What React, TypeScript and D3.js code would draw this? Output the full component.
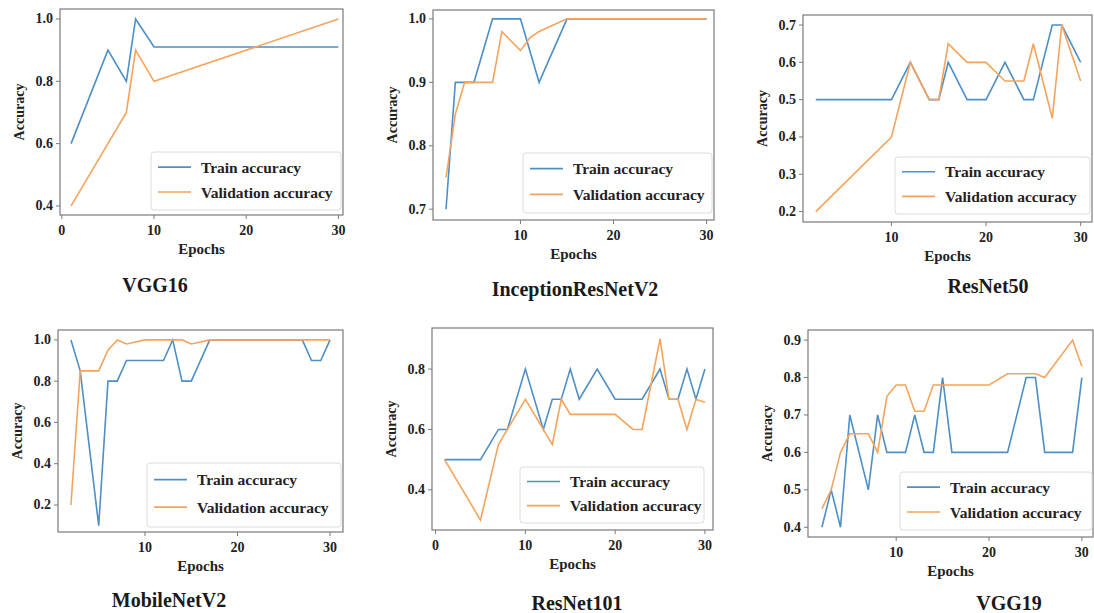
import * as d3 from "d3";

type Pt = [number, number];

// [epoch, accuracy] vertices
const vgg16Train: Pt[] = [[1, 0.6], [5, 0.9], [7, 0.8], [8, 1.0], [10, 0.91], [30, 0.91]];
const vgg16Val: Pt[] = [[1, 0.4], [7, 0.7], [8, 0.9], [10, 0.8], [30, 1.0]];

const inceptionTrain: Pt[] = [[2, 0.7], [3, 0.9], [5, 0.9], [7, 1.0], [10, 1.0], [12, 0.9], [15, 1.0], [30, 1.0]];
const inceptionVal: Pt[] = [[2, 0.75], [3, 0.85], [4, 0.9], [7, 0.9], [8, 0.98], [10, 0.95], [11, 0.97], [12, 0.98], [15, 1.0], [30, 1.0]];

const resnet50Train: Pt[] = [[2, 0.5], [10, 0.5], [12, 0.6], [14, 0.5], [15, 0.5], [16, 0.6], [18, 0.5], [20, 0.5], [22, 0.6], [24, 0.5], [25, 0.5], [27, 0.7], [28, 0.7], [30, 0.6]];
const resnet50Val: Pt[] = [[2, 0.2], [10, 0.4], [12, 0.6], [14, 0.5], [15, 0.5], [16, 0.65], [18, 0.6], [20, 0.6], [22, 0.55], [24, 0.55], [25, 0.65], [27, 0.45], [28, 0.7], [30, 0.55]];

const mobilenetTrain: Pt[] = [[2, 1.0], [3, 0.85], [5, 0.1], [6, 0.8], [7, 0.8], [8, 0.9], [12, 0.9], [13, 1.0], [14, 0.8], [15, 0.8], [17, 1.0], [27, 1.0], [28, 0.9], [29, 0.9], [30, 1.0]];
const mobilenetVal: Pt[] = [[2, 0.2], [3, 0.85], [5, 0.85], [6, 0.95], [7, 1.0], [8, 0.98], [9, 0.99], [10, 1.0], [14, 1.0], [15, 0.98], [16, 0.99], [17, 1.0], [30, 1.0]];

const resnet101Train: Pt[] = [[1, 0.5], [5, 0.5], [7, 0.6], [8, 0.6], [10, 0.8], [12, 0.6], [13, 0.7], [14, 0.7], [15, 0.8], [16, 0.7], [18, 0.8], [20, 0.7], [23, 0.7], [25, 0.8], [26, 0.7], [27, 0.7], [28, 0.8], [29, 0.7], [30, 0.8]];
const resnet101Val: Pt[] = [[1, 0.5], [5, 0.3], [7, 0.55], [8, 0.6], [10, 0.7], [12, 0.6], [13, 0.55], [14, 0.7], [15, 0.65], [20, 0.65], [22, 0.6], [23, 0.6], [25, 0.9], [26, 0.7], [27, 0.7], [28, 0.6], [29, 0.7], [30, 0.69]];

const vgg19Train: Pt[] = [[2, 0.4], [3, 0.5], [4, 0.4], [5, 0.7], [7, 0.5], [8, 0.7], [9, 0.6], [11, 0.6], [12, 0.7], [13, 0.6], [14, 0.6], [15, 0.8], [16, 0.6], [22, 0.6], [24, 0.8], [25, 0.8], [26, 0.6], [29, 0.6], [30, 0.8]];
const vgg19Val: Pt[] = [[2, 0.45], [3, 0.5], [4, 0.6], [5, 0.65], [7, 0.65], [8, 0.6], [9, 0.75], [10, 0.78], [11, 0.78], [12, 0.71], [13, 0.71], [14, 0.78], [20, 0.78], [22, 0.81], [25, 0.81], [26, 0.8], [29, 0.9], [30, 0.83]];

const xTickValues = [0, 10, 20, 30];
const titles = ["VGG16", "InceptionResNetV2", "ResNet50", "MobileNetV2", "ResNet101", "VGG19"];
const legendLabels = ["Train accuracy", "Validation accuracy"];

const trainColor = "#4d8fc6";
const valColor = "#f6a35c";
const font = "'Liberation Serif', 'Times New Roman', serif";

// layout of each small chart (pixel boxes + axis ranges)
const panels = [
  { train: vgg16Train, val: vgg16Val, xDomain: [-0.2, 30.5], yDomain: [0.371, 1.032], yTicks: [0.4, 0.6, 0.8, 1.0],
    box: { x0: 60, x1: 343, y0: 9, y1: 215 }, legend: { x: 151, y: 152, w: 190, h: 58 }, title: [155, 285] },
  { train: inceptionTrain, val: inceptionVal, xDomain: [0.6, 30.8], yDomain: [0.683, 1.014], yTicks: [0.7, 0.8, 0.9, 1.0],
    box: { x0: 433, x1: 714, y0: 10, y1: 220 }, legend: { x: 523, y: 153, w: 189, h: 60 }, title: [575, 289] },
  { train: resnet50Train, val: resnet50Val, xDomain: [0.65, 31.2], yDomain: [0.172, 0.727], yTicks: [0.2, 0.3, 0.4, 0.5, 0.6, 0.7],
    box: { x0: 803, x1: 1092, y0: 15, y1: 222 }, legend: { x: 895, y: 157, w: 195, h: 57 }, title: [988, 286] },
  { train: mobilenetTrain, val: mobilenetVal, xDomain: [0.6, 31.4], yDomain: [0.069, 1.048], yTicks: [0.2, 0.4, 0.6, 0.8, 1.0],
    box: { x0: 58, x1: 343, y0: 330, y1: 532 }, legend: { x: 147, y: 463, w: 194, h: 64 }, title: [169, 600] },
  { train: resnet101Train, val: resnet101Val, xDomain: [-0.4, 30.9], yDomain: [0.267, 0.936], yTicks: [0.4, 0.6, 0.8],
    box: { x0: 432, x1: 713, y0: 328, y1: 530 }, legend: { x: 520, y: 467, w: 184, h: 56 }, title: [577, 603] },
  { train: vgg19Train, val: vgg19Val, xDomain: [0.5, 31.2], yDomain: [0.374, 0.927], yTicks: [0.4, 0.5, 0.6, 0.7, 0.8, 0.9],
    box: { x0: 808, x1: 1093, y0: 330, y1: 537 }, legend: { x: 900, y: 472, w: 192, h: 58 }, title: [1009, 603] },
];

function Panel({ p, title }: { p: (typeof panels)[number]; title: string }) {
  const { box, legend } = p;
  const x = d3.scaleLinear().domain(p.xDomain).range([box.x0, box.x1]);
  const y = d3.scaleLinear().domain(p.yDomain).range([box.y1, box.y0]);
  const line = d3.line<Pt>().x(d => x(d[0])).y(d => y(d[1]));
  const xTicks = xTickValues.filter(t => t >= p.xDomain[0] && t <= p.xDomain[1]);
  const fmt = d3.format(".1f");
  const row1 = legend.y + legend.h * 0.26;
  const row2 = legend.y + legend.h * 0.69;
  const cx = (box.x0 + box.x1) / 2;
  const cy = (box.y0 + box.y1) / 2;
  const ink = "#222";

  return (
    <g>
      <path d={line(p.train) ?? ""} fill="none" stroke={trainColor} strokeWidth={1.6} />
      <path d={line(p.val) ?? ""} fill="none" stroke={valColor} strokeWidth={1.6} />
      <rect x={box.x0} y={box.y0} width={box.x1 - box.x0} height={box.y1 - box.y0} fill="none" stroke="#7a7a7a" strokeWidth={1.2} />

      {p.yTicks.map(t => (
        <g key={"y" + t}>
          <line x1={box.x0 - 4} x2={box.x0} y1={y(t)} y2={y(t)} stroke="#7a7a7a" />
          <text x={box.x0 - 7} y={y(t)} textAnchor="end" dominantBaseline="central" fontSize={14} fontWeight="bold" fill={ink}>
            {fmt(t)}
          </text>
        </g>
      ))}
      {xTicks.map(t => (
        <g key={"x" + t}>
          <line x1={x(t)} x2={x(t)} y1={box.y1} y2={box.y1 + 4} stroke="#7a7a7a" />
          <text x={x(t)} y={box.y1 + 15} textAnchor="middle" dominantBaseline="central" fontSize={14} fontWeight="bold" fill={ink}>
            {t}
          </text>
        </g>
      ))}

      <text x={cx} y={box.y1 + 34} textAnchor="middle" dominantBaseline="central" fontSize={15} fontWeight="bold" fill={ink}>
        Epochs
      </text>
      <text transform={`translate(${box.x0 - 41},${cy}) rotate(-90)`} textAnchor="middle" dominantBaseline="central" fontSize={14} fontWeight="bold" fill={ink}>
        Accuracy
      </text>

      <rect x={legend.x} y={legend.y} width={legend.w} height={legend.h} rx={3} fill="white" fillOpacity={0.85} stroke="#dcdcdc" />
      <line x1={legend.x + 7} x2={legend.x + 40} y1={row1} y2={row1} stroke={trainColor} strokeWidth={1.6} />
      <line x1={legend.x + 7} x2={legend.x + 40} y1={row2} y2={row2} stroke={valColor} strokeWidth={1.6} />
      <text x={legend.x + 50} y={row1} dominantBaseline="central" fontSize={15.5} fontWeight="bold" fill={ink}>{legendLabels[0]}</text>
      <text x={legend.x + 50} y={row2} dominantBaseline="central" fontSize={15.5} fontWeight="bold" fill={ink}>{legendLabels[1]}</text>

      <text x={p.title[0]} y={p.title[1]} textAnchor="middle" dominantBaseline="central" fontSize={20} fontWeight="bold" fill="#1a1a1a">
        {title}
      </text>
    </g>
  );
}

export default function App() {
  return (
    <svg width={1094} height={613} style={{ position: "absolute", left: 0, top: 0, background: "white" }} fontFamily={font}>
      {panels.map((p, i) => (
        <Panel key={titles[i]} p={p} title={titles[i]} />
      ))}
    </svg>
  );
}
